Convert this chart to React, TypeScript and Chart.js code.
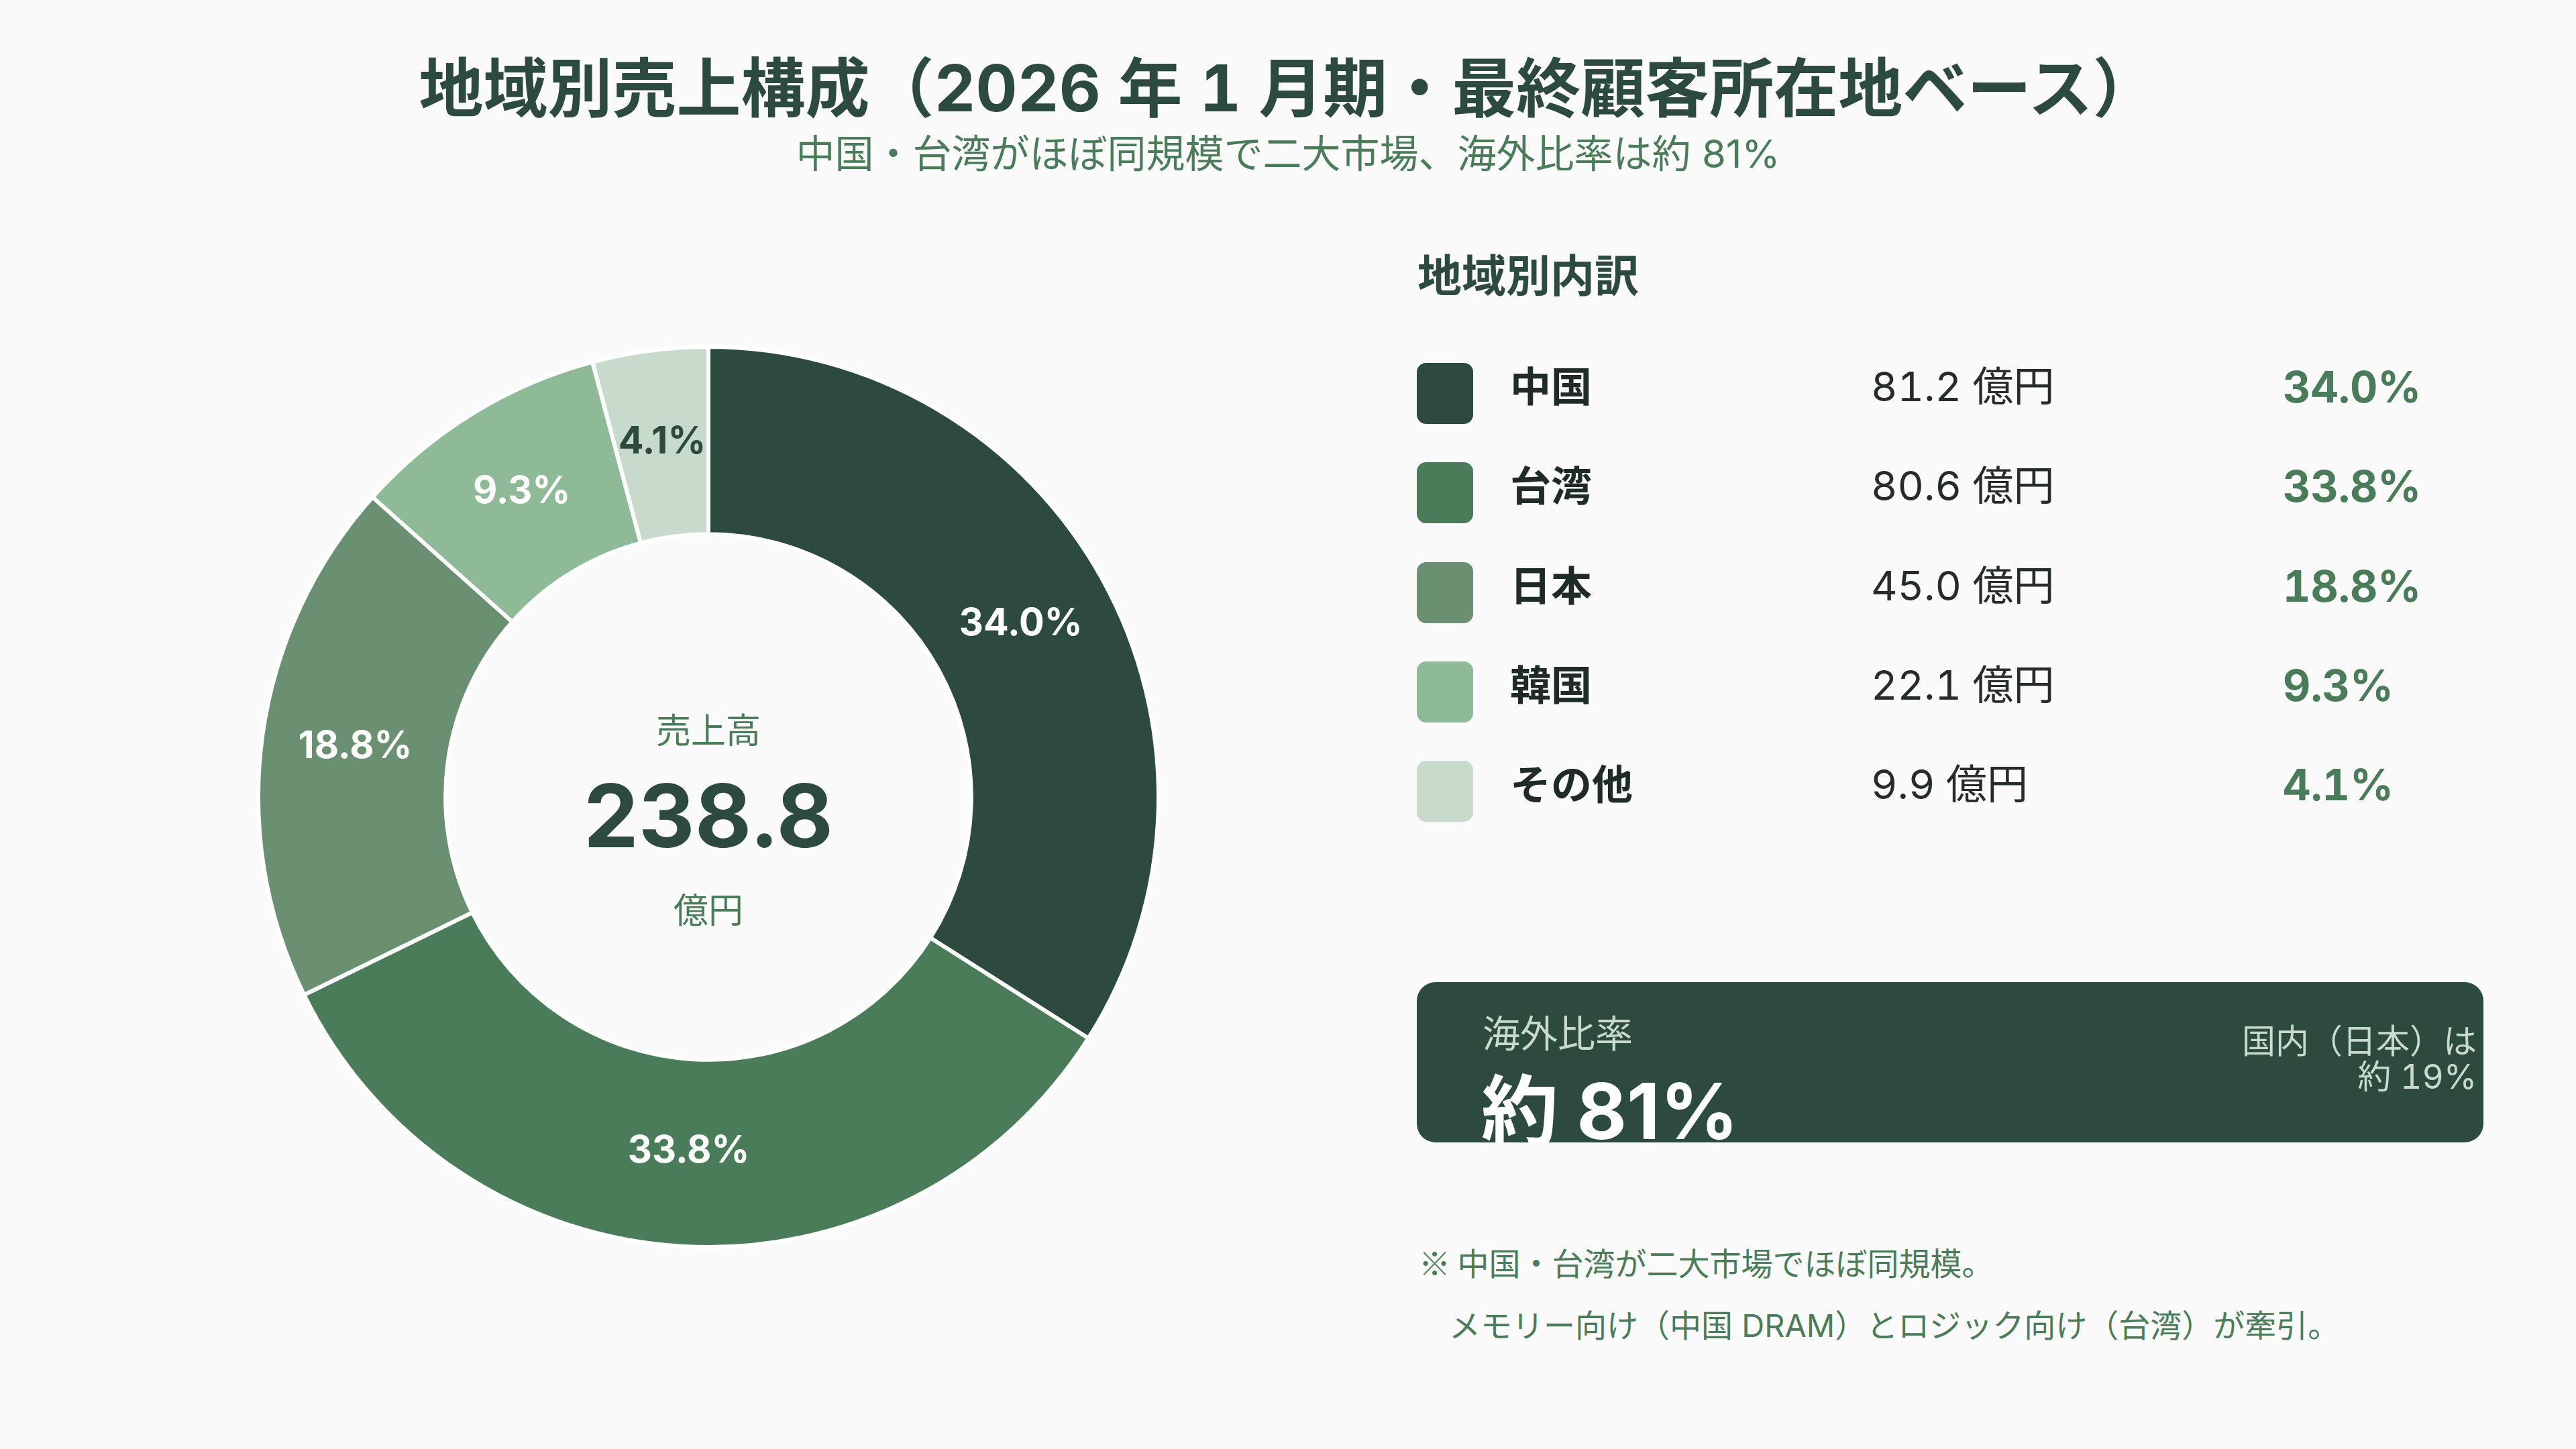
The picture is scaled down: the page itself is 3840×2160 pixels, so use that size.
import { useEffect, useRef } from "react";
import { Chart, registerables } from "chart.js";

Chart.register(...registerables);

// Regional sales breakdown (unit: 億円)
const regions = ["中国", "台湾", "日本", "韓国", "その他"];
const sales = [81.2, 80.6, 45.0, 22.1, 9.9];
const sliceColors = ["#2d4a3e", "#4a7c59", "#6b8f71", "#8fba98", "#c8dacc"];
const sliceLabelColors = ["#ffffff", "#ffffff", "#ffffff", "#ffffff", "#2d4a3e"];
const domesticRegion = "日本";

const UNIT = "億円";
const LATIN = "Inter, 'Noto Sans CJK JP', sans-serif";
const CJK = "'Noto Sans CJK JP', sans-serif";

const total = sales.reduce((a, b) => a + b, 0);
const pct = (v: number) => ((v / total) * 100).toFixed(1) + "%";
const domesticShare = (sales[regions.indexOf(domesticRegion)] / total) * 100;
const overseasShare = 100 - domesticShare;

// Percentage labels on each slice plus the total in the hole
const donutText = {
  id: "donutText",
  afterDatasetsDraw(chart: any) {
    const { ctx } = chart;
    const meta = chart.getDatasetMeta(0);
    const values = chart.data.datasets[0].data as number[];
    ctx.save();
    ctx.textAlign = "center";
    ctx.textBaseline = "middle";
    ctx.font = `700 56px ${LATIN}`;
    meta.data.forEach((arc: any, i: number) => {
      const p = arc.tooltipPosition(false);
      ctx.fillStyle = sliceLabelColors[i];
      ctx.fillText(pct(values[i]), p.x, p.y - 2);
    });

    const cx = meta.data[0].x;
    const cy = meta.data[0].y;
    ctx.fillStyle = "#4a7c59";
    ctx.font = `400 52px ${CJK}`;
    ctx.fillText("売上高", cx, cy - 100);
    ctx.fillText(UNIT, cx, cy + 168);

    ctx.fillStyle = "#2d4a3e";
    ctx.font = `700 130px ${LATIN}`;
    ctx.textBaseline = "alphabetic";
    ctx.fillText(total.toFixed(1), cx, cy + 75);
    ctx.restore();
  },
};

function Donut() {
  const ref = useRef<HTMLCanvasElement | null>(null);
  useEffect(() => {
    if (!ref.current) return;
    const chart = new Chart(ref.current, {
      type: "doughnut",
      data: {
        labels: regions,
        datasets: [
          {
            data: sales,
            backgroundColor: sliceColors,
            borderColor: "#ffffff",
            borderWidth: 6,
            hoverBorderWidth: 6,
            hoverOffset: 0,
          },
        ],
      },
      options: {
        responsive: false,
        animation: false,
        cutout: "58.4%",
        layout: { padding: 0 },
        plugins: {
          legend: { display: false },
          tooltip: { enabled: false },
        },
        events: [],
      },
      plugins: [donutText],
    });
    return () => chart.destroy();
  }, []);
  return (
    <canvas
      ref={ref}
      width={1348}
      height={1348}
      style={{ position: "absolute", left: 382, top: 514, width: 1348, height: 1348 }}
    />
  );
}

export default function App() {
  const rowTop = 541;
  const rowGap = 148.3;
  return (
    <div
      style={{
        position: "fixed",
        left: 0,
        top: 0,
        width: "100vw",
        height: "100vh",
        background: "#fafafa",
        fontFamily: LATIN,
        overflow: "hidden",
      }}
    >
      <div
        style={{
          position: "absolute",
          left: 0,
          right: 0,
          top: 83,
          textAlign: "center",
          fontSize: 96,
          lineHeight: 1,
          fontWeight: 700,
          color: "#2d4a3e",
          whiteSpace: "nowrap",
          fontVariantNumeric: "tabular-nums",
        }}
      >
        地域別売上構成（2026 年 1 月期・最終顧客所在地ベース）
      </div>
      <div
        style={{
          position: "absolute",
          left: 0,
          right: 0,
          top: 200,
          textAlign: "center",
          fontSize: 58,
          lineHeight: 1,
          color: "#4a7c59",
          whiteSpace: "nowrap",
        }}
      >
        中国・台湾がほぼ同規模で二大市場、海外比率は約 {Math.round(overseasShare)}%
      </div>

      <Donut />

      <div
        style={{
          position: "absolute",
          left: 2113,
          top: 378,
          fontSize: 66,
          lineHeight: 1,
          fontWeight: 700,
          color: "#2d4a3e",
        }}
      >
        地域別内訳
      </div>

      {regions.map((name, i) => {
        const y = rowTop + i * rowGap;
        return (
          <div key={name}>
            <div
              style={{
                position: "absolute",
                left: 2112,
                top: y,
                width: 84,
                height: 91,
                borderRadius: 14,
                background: sliceColors[i],
              }}
            />
            <div
              style={{
                position: "absolute",
                left: 2251,
                top: y + 6,
                fontSize: 61,
                lineHeight: 1,
                fontWeight: 700,
                color: "#1f2b25",
                whiteSpace: "nowrap",
              }}
            >
              {name}
            </div>
            <div
              style={{
                position: "absolute",
                left: 2789,
                top: y + 5,
                fontSize: 61,
                lineHeight: 1,
                color: "#262d29",
                whiteSpace: "nowrap",
                fontVariantNumeric: "tabular-nums",
              }}
            >
              {sales[i].toFixed(1)} {UNIT}
            </div>
            <div
              style={{
                position: "absolute",
                left: 3403,
                top: y + 4,
                fontSize: 64,
                lineHeight: 1,
                fontWeight: 700,
                color: "#4a7c59",
                whiteSpace: "nowrap",
                fontVariantNumeric: "tabular-nums",
              }}
            >
              {pct(sales[i])}
            </div>
          </div>
        );
      })}

      <div
        style={{
          position: "absolute",
          left: 2112,
          top: 1464,
          width: 1590,
          height: 239,
          borderRadius: 28,
          background: "#2d4a3e",
          overflow: "hidden",
        }}
      >
        <div
          style={{
            position: "absolute",
            left: 98,
            top: 49,
            fontSize: 56,
            lineHeight: 1,
            color: "#c8dacc",
            whiteSpace: "nowrap",
          }}
        >
          海外比率
        </div>
        <div
          style={{
            position: "absolute",
            left: 96,
            top: 135,
            fontSize: 115,
            lineHeight: 1,
            fontWeight: 700,
            color: "#ffffff",
            whiteSpace: "nowrap",
          }}
        >
          約 {Math.round(overseasShare)}%
        </div>
        <div
          style={{
            position: "absolute",
            right: 10,
            top: 62,
            fontSize: 50,
            lineHeight: "53px",
            color: "#c8dacc",
            textAlign: "right",
            whiteSpace: "nowrap",
            fontVariantNumeric: "tabular-nums",
          }}
        >
          国内（{domesticRegion}）は
          <br />約 {Math.round(domesticShare)}%
        </div>
      </div>

      <div
        style={{
          position: "absolute",
          left: 2115,
          top: 1857,
          fontSize: 47,
          lineHeight: 1,
          color: "#4a7c59",
          whiteSpace: "nowrap",
          fontFamily: CJK,
        }}
      >
        ※ 中国・台湾が二大市場でほぼ同規模。
      </div>
      <div
        style={{
          position: "absolute",
          left: 2160,
          top: 1952,
          fontSize: 47,
          lineHeight: 1,
          color: "#4a7c59",
          whiteSpace: "nowrap",
        }}
      >
        メモリー向け（中国 DRAM）とロジック向け（台湾）が牽引。
      </div>
    </div>
  );
}
